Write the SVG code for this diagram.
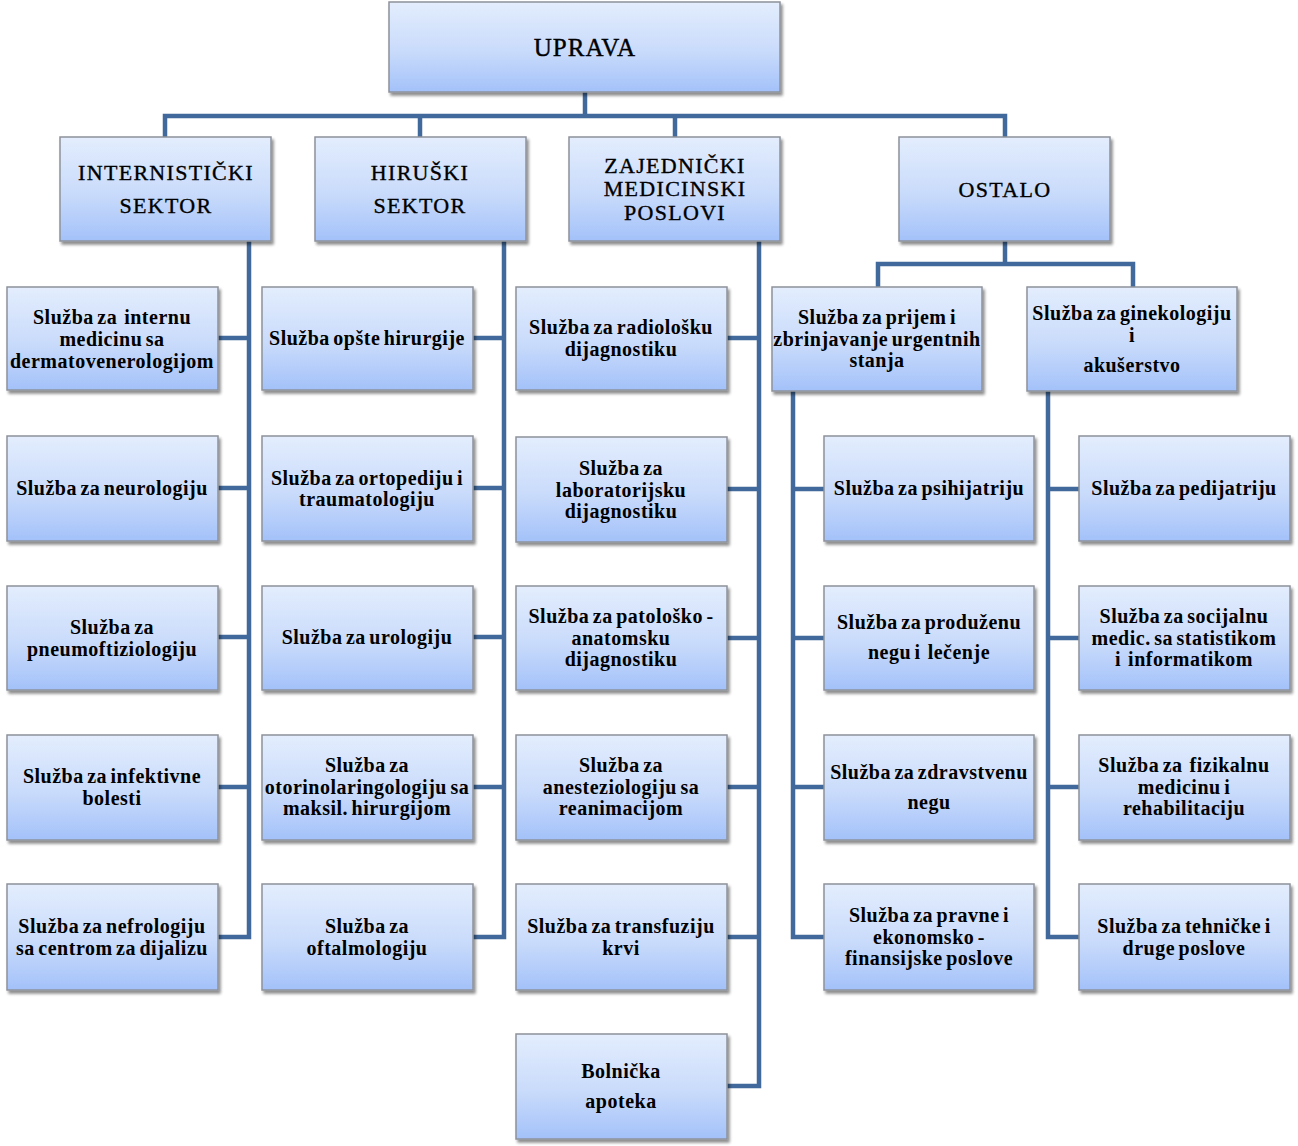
<svg xmlns="http://www.w3.org/2000/svg" width="1298" height="1146" viewBox="0 0 1298 1146">
<defs>
<linearGradient id="g" x1="0" y1="0" x2="0" y2="1">
<stop offset="0" stop-color="#e3edfd"/>
<stop offset="0.55" stop-color="#c9dbfb"/>
<stop offset="1" stop-color="#a3c1f9"/>
</linearGradient>
<filter id="sh" x="-10%" y="-10%" width="125%" height="130%">
<feGaussianBlur in="SourceAlpha" stdDeviation="1.8"/>
<feOffset dx="2" dy="3" result="b"/>
<feComponentTransfer><feFuncA type="linear" slope="0.45"/></feComponentTransfer>
<feMerge><feMergeNode/><feMergeNode in="SourceGraphic"/></feMerge>
</filter>
</defs>
<style>
.node rect{fill:url(#g);stroke:#8d929b;stroke-width:1.5;filter:url(#sh)}
.node text{font-family:"Liberation Serif","Times New Roman",serif;font-size:20px;font-weight:bold;fill:#000;text-anchor:middle;letter-spacing:0.5px;word-spacing:-2px;white-space:pre}
.node text.h{font-weight:normal;font-size:22px;letter-spacing:1.3px;word-spacing:0;stroke:#000;stroke-width:0.35}
.node text.top{font-weight:normal;font-size:25px;letter-spacing:1px;stroke:#000;stroke-width:0.4}
.conn path{fill:none;stroke:#41699b;stroke-width:4.5;stroke-linejoin:miter}
</style>
<rect width="1298" height="1146" fill="#fff"/>
<g class="conn">
<path d="M585 92V116"/>
<path d="M165 137V116H1005V137"/>
<path d="M420 116V137"/>
<path d="M675 116V137"/>
<path d="M249 241V937H218"/>
<path d="M218 338H249M218 488H249M218 637H249M218 787H249"/>
<path d="M504 241V937H473"/>
<path d="M473 338H504M473 488H504M473 637H504M473 787H504"/>
<path d="M759 241V1086H727"/>
<path d="M727 338H759M727 489H759M727 638H759M727 787H759M727 937H759"/>
<path d="M1005 241V264"/>
<path d="M878 287V264H1133V287"/>
<path d="M793 391V937H824"/>
<path d="M793 489H824M793 638H824M793 787H824"/>
<path d="M1048 391V937H1079"/>
<path d="M1048 489H1079M1048 638H1079M1048 787H1079"/>
</g>
<g id="uprava" class="node"><rect x="389" y="2" width="391" height="90"/><text class="top" x="585" y="56">UPRAVA</text></g>
<g id="internisticki" class="node"><rect x="60" y="137" width="211" height="104"/><text class="h" x="166" y="180">INTERNISTIČKI</text><text class="h" x="166" y="213">SEKTOR</text></g>
<g id="hiruski" class="node"><rect x="315" y="137" width="211" height="104"/><text class="h" x="420" y="180">HIRUŠKI</text><text class="h" x="420" y="213">SEKTOR</text></g>
<g id="zajednicki" class="node"><rect x="569" y="137" width="211" height="104"/><text class="h" x="675" y="173">ZAJEDNIČKI</text><text class="h" x="675" y="196">MEDICINSKI</text><text class="h" x="675" y="220">POSLOVI</text></g>
<g id="ostalo" class="node"><rect x="899" y="137" width="211" height="104"/><text class="h" x="1005" y="197">OSTALO</text></g>

<g id="s-interna" class="node"><rect x="7" y="287" width="211" height="103"/><text x="112" y="324">Služba za  internu</text><text x="112" y="346">medicinu sa</text><text x="112" y="368">dermatovenerologijom</text></g>
<g id="s-neurologija" class="node"><rect x="7" y="436" width="211" height="105"/><text x="112" y="495">Služba za neurologiju</text></g>
<g id="s-pneumo" class="node"><rect x="7" y="586" width="211" height="104"/><text x="112" y="634">Služba za</text><text x="112" y="656">pneumoftiziologiju</text></g>
<g id="s-infektivne" class="node"><rect x="7" y="735" width="211" height="105"/><text x="112" y="783">Služba za infektivne</text><text x="112" y="805">bolesti</text></g>
<g id="s-nefro" class="node"><rect x="7" y="884" width="211" height="106"/><text x="112" y="933">Služba za nefrologiju</text><text x="112" y="955">sa centrom za dijalizu</text></g>

<g id="s-opsta" class="node"><rect x="262" y="287" width="211" height="103"/><text x="367" y="345">Služba opšte hirurgije</text></g>
<g id="s-ortopedija" class="node"><rect x="262" y="436" width="211" height="105"/><text x="367" y="485">Služba za ortopediju i</text><text x="367" y="506">traumatologiju</text></g>
<g id="s-urologija" class="node"><rect x="262" y="586" width="211" height="104"/><text x="367" y="644">Služba za urologiju</text></g>
<g id="s-orl" class="node"><rect x="262" y="735" width="211" height="105"/><text x="367" y="772">Služba za</text><text x="367" y="794">otorinolaringologiju sa</text><text x="367" y="815">maksil. hirurgijom</text></g>
<g id="s-oftalmo" class="node"><rect x="262" y="884" width="211" height="106"/><text x="367" y="933">Služba za</text><text x="367" y="955">oftalmologiju</text></g>

<g id="s-radio" class="node"><rect x="516" y="287" width="211" height="103"/><text x="621" y="334">Služba za radiološku</text><text x="621" y="356">dijagnostiku</text></g>
<g id="s-lab" class="node"><rect x="516" y="437" width="211" height="105"/><text x="621" y="475">Služba za</text><text x="621" y="497">laboratorijsku</text><text x="621" y="518">dijagnostiku</text></g>
<g id="s-pato" class="node"><rect x="516" y="586" width="211" height="104"/><text x="621" y="623">Služba za patološko -</text><text x="621" y="645">anatomsku</text><text x="621" y="666">dijagnostiku</text></g>
<g id="s-anest" class="node"><rect x="516" y="735" width="211" height="105"/><text x="621" y="772">Služba za</text><text x="621" y="794">anesteziologiju sa</text><text x="621" y="815">reanimacijom</text></g>
<g id="s-transf" class="node"><rect x="516" y="884" width="211" height="106"/><text x="621" y="933">Služba za transfuziju</text><text x="621" y="955">krvi</text></g>
<g id="s-apoteka" class="node"><rect x="516" y="1034" width="211" height="105"/><text x="621" y="1078">Bolnička</text><text x="621" y="1108">apoteka</text></g>

<g id="s-prijem" class="node"><rect x="772" y="287" width="210" height="104"/><text x="877" y="324">Služba za prijem i</text><text x="877" y="346">zbrinjavanje urgentnih</text><text x="877" y="367">stanja</text></g>
<g id="s-gineko" class="node"><rect x="1027" y="287" width="210" height="104"/><text x="1132" y="320">Služba za ginekologiju</text><text x="1132" y="342">i</text><text x="1132" y="372">akušerstvo</text></g>

<g id="s-psihijatrija" class="node"><rect x="824" y="436" width="210" height="105"/><text x="929" y="495">Služba za psihijatriju</text></g>
<g id="s-produzena" class="node"><rect x="824" y="586" width="210" height="104"/><text x="929" y="629">Služba za produženu</text><text x="929" y="659">negu i  lečenje</text></g>
<g id="s-zdravstvena" class="node"><rect x="824" y="735" width="210" height="105"/><text x="929" y="779">Služba za zdravstvenu</text><text x="929" y="809">negu</text></g>
<g id="s-pravne" class="node"><rect x="824" y="884" width="210" height="106"/><text x="929" y="922">Služba za pravne i</text><text x="929" y="944">ekonomsko -</text><text x="929" y="965">finansijske poslove</text></g>

<g id="s-pedijatrija" class="node"><rect x="1079" y="436" width="211" height="105"/><text x="1184" y="495">Služba za pedijatriju</text></g>
<g id="s-socijalna" class="node"><rect x="1079" y="586" width="211" height="104"/><text x="1184" y="623">Služba za socijalnu</text><text x="1184" y="645">medic. sa statistikom</text><text x="1184" y="666">i  informatikom</text></g>
<g id="s-fizikalna" class="node"><rect x="1079" y="735" width="211" height="105"/><text x="1184" y="772">Služba za  fizikalnu</text><text x="1184" y="794">medicinu i</text><text x="1184" y="815">rehabilitaciju</text></g>
<g id="s-tehnicke" class="node"><rect x="1079" y="884" width="211" height="106"/><text x="1184" y="933">Služba za tehničke i</text><text x="1184" y="955">druge poslove</text></g>
</svg>
